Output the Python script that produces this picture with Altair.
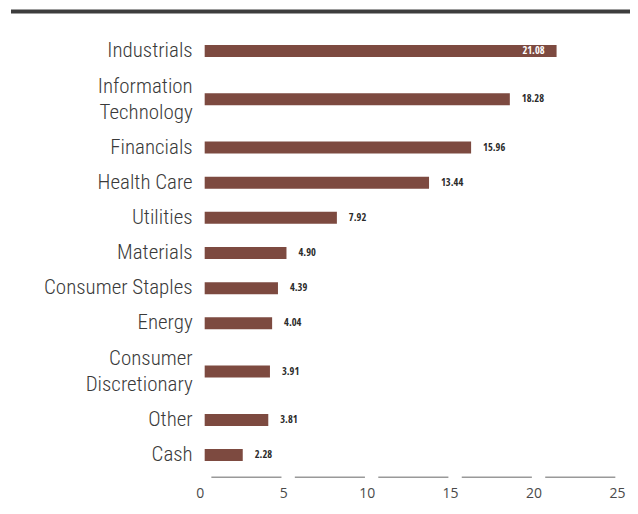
import altair as alt
import pandas as pd

categories = ["Industrials", "Information Technology", "Financials", "Health Care",
              "Utilities", "Materials", "Consumer Staples", "Energy",
              "Consumer Discretionary", "Other", "Cash"]
label_lines = [["Industrials"], ["Information", "Technology"], ["Financials"], ["Health Care"],
               ["Utilities"], ["Materials"], ["Consumer Staples"], ["Energy"],
               ["Consumer", "Discretionary"], ["Other"], ["Cash"]]
values = [21.08, 18.28, 15.96, 13.44, 7.92, 4.90, 4.39, 4.04, 3.91, 3.81, 2.28]
value_labels = ["21.08", "18.28", "15.96", "13.44", "7.92", "4.90", "4.39", "4.04", "3.91", "3.81", "2.28"]
x_ticks = [0, 5, 10, 15, 20, 25]

W, H = 418, 450
ROW, EXTRA = 36, 27
LINE_H = 26
BAR_COLOR = "#7d4a40"
CAT_FONT = "Roboto Condensed"
VAL_FONT = "Open Sans Condensed"

# row layout: slot height grows with the number of label lines
centers, pos = [], 0
for lines in label_lines:
    h = ROW + EXTRA * (len(lines) - 1)
    centers.append(pos + h / 2)
    pos += h

df = pd.DataFrame({"category": categories, "lines": label_lines, "value": values,
                   "label": value_labels, "yc": centers,
                   "nlines": [len(l) for l in label_lines]})

seg = pd.DataFrame({"a": [t + 0.4 for t in x_ticks[:-1]], "b": [t + 4.6 for t in x_ticks[:-1]]})

xs = alt.Scale(domain=[0, 25], nice=False)
ys = alt.Scale(domain=[0, pos], reverse=True, nice=False, zero=False)

base = alt.Chart(df)

bars = base.mark_bar(color=BAR_COLOR, size=12, orient="horizontal").encode(
    x=alt.X("value:Q", scale=xs,
            axis=alt.Axis(values=x_ticks, grid=False, domain=False, ticks=False,
                          title=None, labelFontSize=14, labelColor="#4a4a4a",
                          labelFont="Open Sans", labelPadding=9, labelOffset=-5,
                          labelFlush=False)),
    x2=alt.datum(0),
    y=alt.Y("yc:Q", scale=ys, axis=None),
)

# first line of a multi-line label sits above the row centre so the block is centred
cat_text = base.transform_calculate(
    ty=f"datum.yc - (datum.nlines - 1) * {LINE_H / 2} * {pos} / {H}"
).mark_text(align="right", baseline="middle", font=CAT_FONT, fontSize=21,
            fontWeight=300, color="#3a3a3a", lineHeight=LINE_H, dx=-12).encode(
    x=alt.value(0),
    y=alt.Y("ty:Q", scale=ys),
    text="lines",
)

outside = base.transform_joinaggregate(mx="max(value)").transform_filter(
    "datum.value < datum.mx").mark_text(
    align="left", baseline="middle", font=VAL_FONT, fontSize=10.5, fontWeight="bold",
    color="#2a2a2a", dx=12).encode(
    x=alt.X("value:Q", scale=xs), y=alt.Y("yc:Q", scale=ys), text="label:N")

inside = base.transform_joinaggregate(mx="max(value)").transform_filter(
    "datum.value >= datum.mx").mark_text(
    align="right", baseline="middle", font=VAL_FONT, fontSize=10.5, fontWeight="bold",
    color="white", dx=-12).encode(
    x=alt.X("value:Q", scale=xs), y=alt.Y("yc:Q", scale=ys), text="label:N")

axis_segs = alt.Chart(seg).mark_rule(color="#999999", strokeWidth=1.5).encode(
    x=alt.X("a:Q", scale=xs), x2="b:Q", y=alt.value(H - 0.5))

top_rule = alt.Chart(pd.DataFrame({"k": [0]})).mark_rule(color="#3d3d3d", strokeWidth=4).encode(
    x=alt.value(-194), x2=alt.value(W + 8), y=alt.value(-17))

chart = alt.layer(top_rule, bars, cat_text, outside, inside, axis_segs).properties(
    width=W, height=H,
    background="white",
    autosize=alt.AutoSizeParams(type="none"),
    padding={"left": 197, "top": 20, "right": 8, "bottom": 24},
).configure_view(stroke=None)

chart.save("out.html", embed_options={"renderer": "svg", "actions": False})
